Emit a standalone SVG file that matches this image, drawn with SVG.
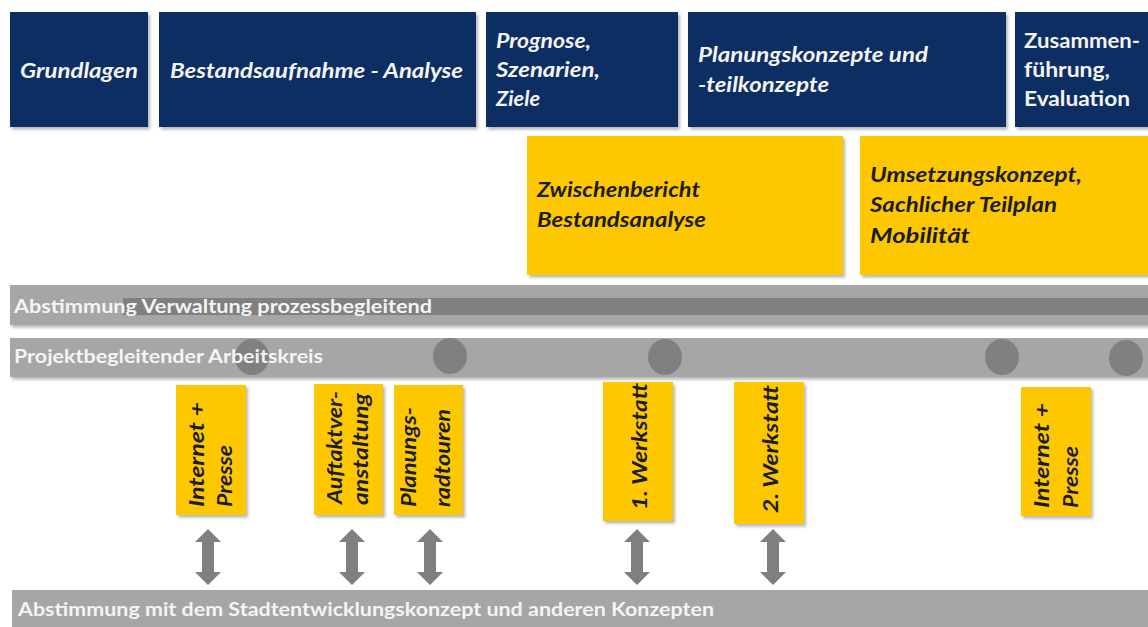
<svg xmlns="http://www.w3.org/2000/svg" xmlns:xlink="http://www.w3.org/1999/xlink" width="1148" height="627" viewBox="0 0 1148 627">
<defs>
<filter id="sh" x="-10%" y="-10%" width="130%" height="130%">
<feDropShadow dx="2" dy="2.5" stdDeviation="1.5" flood-color="#7a7a7a" flood-opacity="0.55"/>
</filter>
<path id="dbl" d="M0,0 L13,13 L6,13 L6,43 L13,43 L0,56 L-13,43 L-6,43 L-6,13 L-13,13 Z"/>
</defs>
<style>
.navy{fill:#0e2f63;filter:url(#sh)}
.yel{fill:#fdc800;filter:url(#sh)}
.bar{fill:#a6a6a6;filter:url(#sh)}
.dot{fill:#808080}
.wt{fill:#f4f4f4;font-family:Lato,"Open Sans",sans-serif;font-weight:bold;font-size:20px}
.it{font-style:italic}
.dk{fill:#1c1c1c;font-family:Lato,"Open Sans",sans-serif;font-weight:bold;font-style:italic;font-size:20px}
.bt{fill:#f4f4f4;font-family:Lato,"Open Sans",sans-serif;font-weight:bold;font-size:18px}
.arr{fill:#7f7f7f}
</style>
<rect width="1148" height="627" fill="#ffffff"/>

<g id="grundlagen">
<rect class="navy" x="10" y="12" width="138" height="115"/>
<text class="wt it" x="20" y="78" textLength="118" lengthAdjust="spacingAndGlyphs">Grundlagen</text>
</g>
<g id="bestandsaufnahme">
<rect class="navy" x="159" y="12" width="317" height="115"/>
<text class="wt it" x="170" y="78" textLength="293" lengthAdjust="spacingAndGlyphs">Bestandsaufnahme - Analyse</text>
</g>
<g id="prognose">
<rect class="navy" x="486" y="12" width="192" height="115"/>
<text class="wt it" x="496" y="48" textLength="95" lengthAdjust="spacingAndGlyphs">Prognose,</text>
<text class="wt it" x="496" y="77" textLength="104" lengthAdjust="spacingAndGlyphs">Szenarien,</text>
<text class="wt it" x="496" y="106" textLength="44" lengthAdjust="spacingAndGlyphs">Ziele</text>
</g>
<g id="planungskonzepte">
<rect class="navy" x="688" y="12" width="318" height="115"/>
<text class="wt it" x="698" y="62" textLength="230" lengthAdjust="spacingAndGlyphs">Planungskonzepte und</text>
<text class="wt it" x="698" y="92" textLength="131" lengthAdjust="spacingAndGlyphs">-teilkonzepte</text>
</g>
<g id="zusammenfuehrung">
<rect class="navy" x="1015" y="12" width="140" height="115"/>
<text class="wt" x="1024" y="48" textLength="116" lengthAdjust="spacingAndGlyphs">Zusammen-</text>
<text class="wt" x="1024" y="77" textLength="86" lengthAdjust="spacingAndGlyphs">führung,</text>
<text class="wt" x="1024" y="106" textLength="106" lengthAdjust="spacingAndGlyphs">Evaluation</text>
</g>

<g id="zwischenbericht">
<rect class="yel" x="527" y="136" width="316" height="139"/>
<text class="dk" x="537" y="197" textLength="163" lengthAdjust="spacingAndGlyphs">Zwischenbericht</text>
<text class="dk" x="537" y="227" textLength="169" lengthAdjust="spacingAndGlyphs">Bestandsanalyse</text>
</g>
<g id="umsetzungskonzept">
<rect class="yel" x="860" y="136" width="295" height="139"/>
<text class="dk" x="870" y="182" textLength="212" lengthAdjust="spacingAndGlyphs">Umsetzungskonzept,</text>
<text class="dk" x="870" y="212" textLength="187" lengthAdjust="spacingAndGlyphs">Sachlicher Teilplan</text>
<text class="dk" x="870" y="243" textLength="100" lengthAdjust="spacingAndGlyphs">Mobilität</text>
</g>

<g id="abstimmung-verwaltung">
<rect class="bar" x="10" y="285" width="1145" height="40"/>
<rect x="123" y="298" width="1032" height="17" fill="#808080"/>
<text class="bt" x="14" y="313" textLength="418" lengthAdjust="spacingAndGlyphs">Abstimmung  Verwaltung prozessbegleitend</text>
</g>
<g id="arbeitskreis">
<rect class="bar" x="10" y="338" width="1145" height="39"/>
<ellipse class="dot" cx="252" cy="357" rx="17" ry="18"/>
<ellipse class="dot" cx="450" cy="356" rx="17" ry="18"/>
<ellipse class="dot" cx="665" cy="357" rx="17" ry="18"/>
<ellipse class="dot" cx="1002" cy="357" rx="17" ry="18"/>
<ellipse class="dot" cx="1126" cy="358" rx="17" ry="18"/>
<text class="bt" x="14" y="363" textLength="309" lengthAdjust="spacingAndGlyphs">Projektbegleitender Arbeitskreis</text>
</g>

<g id="internet-presse-1">
<rect class="yel" x="176" y="385" width="70" height="130"/>
<text class="dk" transform="translate(204,507) rotate(-90)" textLength="105" lengthAdjust="spacingAndGlyphs">Internet  +</text>
<text class="dk" transform="translate(232,507) rotate(-90)" textLength="62" lengthAdjust="spacingAndGlyphs">Presse</text>
</g>
<g id="auftaktveranstaltung">
<rect class="yel" x="314" y="384" width="69" height="131"/>
<text class="dk" transform="translate(342,504) rotate(-90)" textLength="113" lengthAdjust="spacingAndGlyphs">Auftaktver-</text>
<text class="dk" transform="translate(368,505) rotate(-90)" textLength="112" lengthAdjust="spacingAndGlyphs">anstaltung</text>
</g>
<g id="planungsradtouren">
<rect class="yel" x="394" y="385" width="69" height="130"/>
<text class="dk" transform="translate(416,507) rotate(-90)" textLength="100" lengthAdjust="spacingAndGlyphs">Planungs-</text>
<text class="dk" transform="translate(450,507) rotate(-90)" textLength="98" lengthAdjust="spacingAndGlyphs">radtouren</text>
</g>
<g id="werkstatt-1">
<rect class="yel" x="603" y="382" width="70" height="139"/>
<text class="dk" transform="translate(647,510) rotate(-90)" textLength="127" lengthAdjust="spacingAndGlyphs">1. Werkstatt</text>
</g>
<g id="werkstatt-2">
<rect class="yel" x="734" y="382" width="70" height="142"/>
<text class="dk" transform="translate(778,513) rotate(-90)" textLength="128" lengthAdjust="spacingAndGlyphs">2. Werkstatt</text>
</g>
<g id="internet-presse-2">
<rect class="yel" x="1021" y="387" width="70" height="129"/>
<text class="dk" transform="translate(1049,508) rotate(-90)" textLength="105" lengthAdjust="spacingAndGlyphs">Internet  +</text>
<text class="dk" transform="translate(1078,508) rotate(-90)" textLength="62" lengthAdjust="spacingAndGlyphs">Presse</text>
</g>

<g id="abstimmung-stadtentwicklung">
<rect class="bar" x="12" y="590" width="1143" height="40"/>
<text class="bt" x="18" y="616" textLength="696" lengthAdjust="spacingAndGlyphs">Abstimmung mit dem Stadtentwicklungskonzept  und anderen Konzepten</text>
</g>

<g id="connectors">
<use xlink:href="#dbl" class="arr" x="208" y="529"/>
<use xlink:href="#dbl" class="arr" x="352" y="529"/>
<use xlink:href="#dbl" class="arr" x="430" y="529"/>
<use xlink:href="#dbl" class="arr" x="637" y="529"/>
<use xlink:href="#dbl" class="arr" x="773" y="529"/>
</g>
</svg>
